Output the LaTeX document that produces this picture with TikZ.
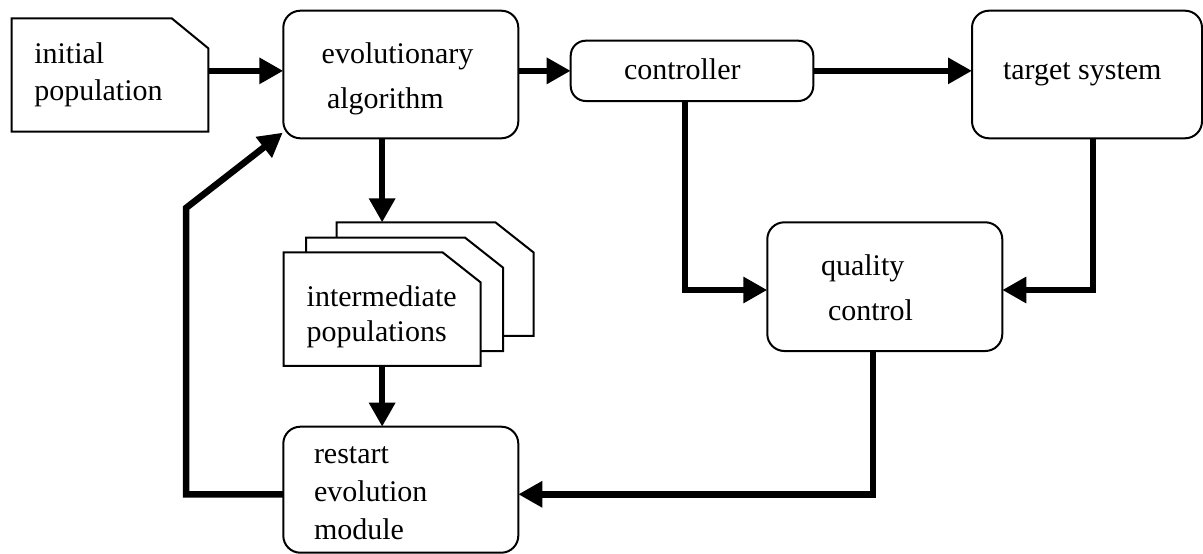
\documentclass[tikz,border=0pt]{standalone}
\usepackage{fontspec}
\setmainfont{Liberation Serif}
\usetikzlibrary{arrows.meta,calc}
\begin{document}
\begin{tikzpicture}[x=1pt,y=-1pt,
  every node/.style={inner sep=0pt,outer sep=0pt},
  rbox/.style={draw,line width=2pt,rounded corners=17pt,fill=white},
  conn/.style={line width=6.5pt,line join=miter,-{Triangle[length=24pt,width=25pt]}},
  lbl/.style={anchor=base west,font=\fontsize{30}{36}\selectfont},
  doc/.style={draw,line width=2pt,fill=white,line join=miter}]
\fill[white] (0,0) rectangle (1203,554);
\useasboundingbox (0,0) rectangle (1203,554);

% boxes
\node[rbox,minimum width=235pt,minimum height=127.6pt] (evo) at (400.8,74.5) {};
\node[rbox,rounded corners=15pt,minimum width=242.6pt,minimum height=60.3pt] (ctrl) at (692,70.85) {};
\node[rbox,minimum width=230pt,minimum height=127.6pt] (target) at (1087,74.5) {};
\node[rbox,minimum width=235pt,minimum height=128.7pt] (qc) at (884.8,286.65) {};
\node[rbox,minimum width=235pt,minimum height=126pt] (restart) at (400.8,489.7) {};

% document shapes
\node[minimum width=196.6pt,minimum height=113.4pt] (init) at (110,75) {};
\draw[doc] (init.south west) -- (init.north west) -- ([xshift=-36.6pt]init.north east)
  -- ([yshift=-30pt]init.north east) -- (init.south east) -- cycle;

\node[minimum width=197pt,minimum height=113.5pt] (pback) at (435,279.15) {};
\node[minimum width=197pt,minimum height=113.5pt] (pmid) at (404.5,294.35) {};
\node[minimum width=197pt,minimum height=113.5pt] (pfront) at (382.15,309.15) {};
\foreach \p in {pback,pmid,pfront}{
  \draw[doc] (\p.south west) -- (\p.north west) -- ([xshift=-38pt]\p.north east)
    -- ([yshift=-30pt]\p.north east) -- (\p.south east) -- cycle;
}

% texts
\node[lbl] (ti1) at (34.3,63.3) {initial};
\node[lbl] (ti2) at (34.3,100) {population};
\node[lbl] (te1) at (321.7,63.3) {evolutionary};
\node[lbl] (te2) at (327,108) {algorithm};
\node[lbl] (tc1) at (624,79) {controller};
\node[lbl] (tt1) at (1003,79) {target system};
\node[lbl] (tq1) at (821,275) {quality};
\node[lbl] (tq2) at (828,320) {control};
\node[lbl] (tp1) at (306.7,306) {intermediate};
\node[lbl] (tp2) at (306.7,341.7) {populations};
\node[lbl] (tr1) at (314,463.3) {restart};
\node[lbl] (tr2) at (314,501.7) {evolution};
\node[lbl] (tr3) at (314,539.3) {module};

% connector points
\coordinate (qcL) at ($(qc.west)+(0,3.35)$);
\coordinate (qcR) at ($(qc.east)+(0,3.35)$);
\coordinate (rsR) at ($(restart.east)+(0,4.6)$);
\coordinate (rsL) at ($(restart.west)+(0,4.6)$);
\coordinate (bendB) at (186,208);
\coordinate (evoTip) at (282.7,132.7);

% connectors
\draw[conn] (init.east |- ctrl.west) -- (evo.west |- ctrl.west);
\draw[conn] (evo.east |- ctrl.west) -- (ctrl.west);
\draw[conn] (ctrl.east) -- (target.west |- ctrl.east);
\draw[conn] (evo.south -| pfront.north) -- (pback.north -| pfront.north);
\draw[conn] (pfront.south) -- (restart.north -| pfront.south);
\draw[conn] ([xshift=-7pt]ctrl.south) |- (qcL);
\draw[conn] ([xshift=6pt]target.south) |- (qcR);
\draw[conn] ([xshift=-11.8pt]qc.south) |- (rsR);
\draw[conn] (rsL) -| (bendB) -- (evoTip);
\end{tikzpicture}
\end{document}
